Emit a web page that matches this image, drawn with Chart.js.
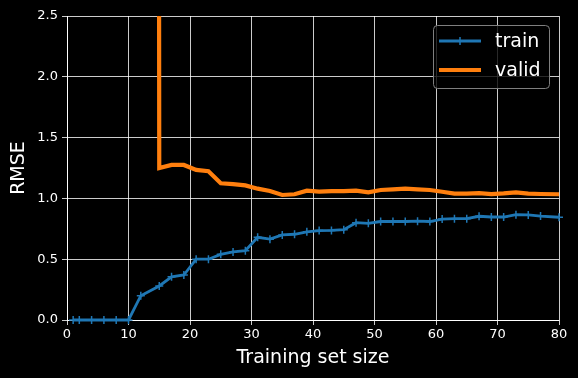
<!DOCTYPE html>
<html>
<head>
<meta charset="utf-8">
<script src="https://cdn.jsdelivr.net/npm/chart.js@4"></script>
<style>
  html, body { margin: 0; padding: 0; background: #000; }
  #wrap { width: 578px; height: 378px; }
</style>
</head>
<body>
<div id="wrap"><canvas id="myChart1"></canvas></div>
<script>
// training set sizes and RMSE values
const trainSizes = [1, 2, 4, 6, 8, 10, 12, 15, 17, 19, 21, 23, 25, 27, 29, 31, 33, 35, 37, 39,
                    41, 43, 45, 47, 49, 51, 53, 55, 57, 59, 61, 63, 65, 67, 69, 71, 73, 75, 77, 80];
const trainErr = [0.0, 0.0, 0.0, 0.0, 0.0, 0.0, 0.20, 0.28, 0.355, 0.37, 0.50, 0.50, 0.54, 0.56, 0.57, 0.68, 0.665, 0.70, 0.705, 0.725,
                  0.735, 0.737, 0.743, 0.80, 0.795, 0.81, 0.81, 0.81, 0.813, 0.81, 0.83, 0.833, 0.833, 0.853, 0.847, 0.847, 0.866, 0.864, 0.855, 0.845];
const validErr = [900, 600, 400, 300, 250, 200, 150, 1.25, 1.275, 1.275, 1.234, 1.223, 1.124, 1.118, 1.107, 1.08, 1.061, 1.028, 1.034, 1.064,
                  1.055, 1.06, 1.06, 1.064, 1.05, 1.069, 1.075, 1.08, 1.075, 1.069, 1.055, 1.039, 1.039, 1.044, 1.036, 1.041, 1.05, 1.039, 1.036, 1.034];
const seriesNames = ['train', 'valid'];
const xTicks = [0, 10, 20, 30, 40, 50, 60, 70, 80];
const yTicks = [0.0, 0.5, 1.0, 1.5, 2.0, 2.5];

const FONT = 'DejaVu Sans';
Chart.defaults.font.family = FONT;
Chart.defaults.color = '#fff';

const bgPlugin = {
    id: 'bg',
    beforeDraw(chart) {
        const c = chart.ctx;
        c.save();
        c.fillStyle = '#000';
        c.fillRect(0, 0, chart.width, chart.height);
        c.restore();
    }
};

// matplotlib-like legend box in the upper right
const legendPlugin = {
    id: 'mplLegend',
    afterDraw(chart) {
        const c = chart.ctx;
        const x = 433.5, y = 25.5, w = 116, h = 63, r = 4;
        c.save();
        c.beginPath();
        c.roundRect(x, y, w, h, r);
        c.fillStyle = 'rgba(0,0,0,0.8)';
        c.fill();
        c.strokeStyle = '#7f7f7f';
        c.lineWidth = 1;
        c.stroke();

        chart.data.datasets.forEach(function(ds, i) {
            const ly = 41 + i * 29;
            c.beginPath();
            c.moveTo(439, ly);
            c.lineTo(481, ly);
            c.strokeStyle = ds.borderColor;
            c.lineWidth = ds.borderWidth;
            c.stroke();
            if (ds.pointStyle === 'cross') {
                c.beginPath();
                c.moveTo(460, ly - 4);
                c.lineTo(460, ly + 4);
                c.moveTo(456, ly);
                c.lineTo(464, ly);
                c.lineWidth = 1.5;
                c.stroke();
            }
            c.fillStyle = '#fff';
            c.font = '19px ' + FONT;
            c.textBaseline = 'middle';
            c.textAlign = 'left';
            c.fillText(ds.label, 495, ly + 1);
        });
        c.restore();
    }
};

const ctx = document.getElementById('myChart1').getContext('2d');

const data = {
    datasets: [
        {
            label: seriesNames[0],
            data: trainSizes.map((s, i) => ({x: s, y: trainErr[i]})),
            borderColor: '#1f77b4',
            backgroundColor: '#1f77b4',
            borderWidth: 2.8,
            pointStyle: 'cross',
            pointRadius: 4,
            pointBorderWidth: 1.5,
            pointHoverRadius: 4,
            tension: 0,
            clip: {left: 5, top: 0, right: 5, bottom: 5}
        },
        {
            label: seriesNames[1],
            data: trainSizes.map((s, i) => ({x: s, y: validErr[i]})),
            borderColor: '#ff7f0e',
            backgroundColor: '#ff7f0e',
            borderWidth: 4.2,
            pointRadius: 0,
            pointHoverRadius: 0,
            tension: 0,
            clip: 0
        }
    ]
};

const gridOpts = {
    color: '#ffffff',
    lineWidth: 0.8,
    tickLength: 5,
    tickColor: '#ffffff',
    tickWidth: 0.8,
    drawOnChartArea: true
};

const options = {
    responsive: true,
    maintainAspectRatio: false,
    animation: false,
    events: [],
    layout: { padding: { top: 16, right: 19, left: 0, bottom: 0 } },
    plugins: { legend: { display: false }, tooltip: { enabled: false } },
    scales: {
        x: {
            type: 'linear',
            min: 0,
            max: 80,
            afterBuildTicks(scale) { scale.ticks = xTicks.map(v => ({value: v})); },
            afterFit(scale) { scale.height = 58; },
            grid: gridOpts,
            border: { color: '#ffffff', width: 1 },
            ticks: { color: '#fff', font: { size: 13 }, padding: 2, maxRotation: 0 },
            title: { display: true, text: 'Training set size', color: '#fff',
                     font: { size: 19 }, padding: { top: 0, bottom: 9 } }
        },
        y: {
            min: 0,
            max: 2.5,
            afterBuildTicks(scale) { scale.ticks = yTicks.map(v => ({value: v})); },
            afterFit(scale) { scale.width = 67; },
            grid: gridOpts,
            border: { color: '#ffffff', width: 1 },
            ticks: { color: '#fff', font: { size: 13 }, padding: 4,
                     callback: v => Number(v).toFixed(1) },
            title: { display: true, text: 'RMSE', color: '#fff',
                     font: { size: 19 }, padding: { top: 8, bottom: 0 } }
        }
    }
};

const myChart1 = new Chart(ctx, {
    type: 'line',
    data: data,
    options: options,
    plugins: [bgPlugin, legendPlugin]
});
</script>
</body>
</html>
